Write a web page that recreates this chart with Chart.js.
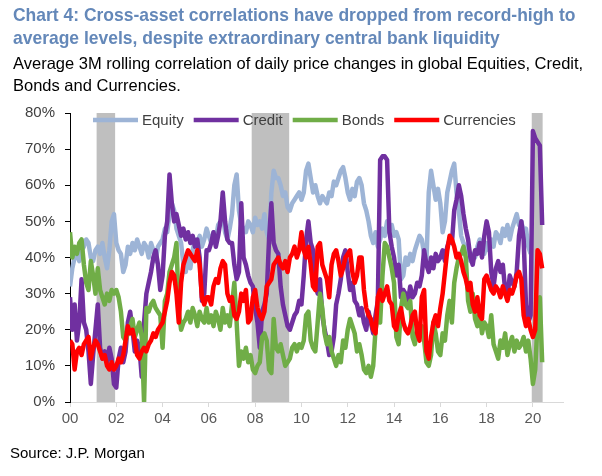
<!DOCTYPE html>
<html>
<head>
<meta charset="utf-8">
<script src="https://cdn.jsdelivr.net/npm/chart.js@4.4.1/dist/chart.umd.min.js"></script>
<style>
  body { margin: 0; background: #fff; }
  #wrap { position: relative; width: 602px; height: 476px; overflow: hidden; }
  #chart { position: absolute; left: 0; top: 0; }
  .txt { position: absolute; white-space: nowrap; font-family: 'Liberation Sans', Arial, sans-serif; transform-origin: 0 0; }
  #title { left: 13px; top: 3px; font-size: 19px; line-height: 23px; font-weight: bold; color: #6488b9; transform: scaleX(0.92); }
  #subtitle { left: 13px; top: 52px; font-size: 16.5px; line-height: 22px; color: #000; }
  #source { left: 10px; top: 444px; font-size: 15px; line-height: 18px; color: #000; }
</style>
</head>
<body>
<div id="wrap">
  <canvas id="chart" width="602" height="476"></canvas>
  <div id="title" class="txt">Chart 4: Cross-asset correlations have dropped from record-high to<br>average levels, despite extraordinary central bank liquidity</div>
  <div id="subtitle" class="txt">Average 3M rolling correlation of daily price changes in global Equities, Credit,<br>Bonds and Currencies.</div>
  <div id="source" class="txt">Source: J.P. Morgan</div>
</div>
<script>
// series are sampled every 0.1 year starting Jan 2000 (values in %)
const START_YEAR = 2000;
const STEP = 0.1;

const equity = [
  32, 37, 40, 41, 39, 42, 43, 45, 44, 40, // 2000
  39, 42, 43, 41, 44, 40, 37, 42, 50, 52, // 2001
  44, 42, 41, 36, 38, 43, 41, 44, 42, 45, // 2002
  43, 41, 44, 43, 40, 44, 42, 39, 43, 44, // 2003
  45, 48, 47, 52, 55, 53, 48, 46, 44, 38, // 2004
  36, 40, 37, 42, 45, 44, 46, 43, 45, 48, // 2005
  46, 44, 47, 45, 49, 50, 52, 47, 45, 48, // 2006
  52, 60, 63, 53, 49, 48, 47, 50, 49, 47, // 2007
  51, 49, 50, 48, 52, 47, 45, 58, 64, 62, // 2008
  62, 60, 57, 58, 54, 53, 55, 56, 57, 58, // 2009
  56, 58, 64, 66, 62, 58, 60, 57, 55, 57, // 2010
  56, 55, 58, 57, 61, 60, 62, 64, 65, 62, // 2011
  58, 56, 59, 57, 61, 62, 60, 55, 53, 50, // 2012
  46, 44, 47, 43, 45, 48, 46, 50, 47, 49, // 2013
  46, 47, 45, 34, 35, 40, 38, 41, 39, 42, // 2014
  44, 46, 45, 41, 39, 58, 64, 60, 56, 59, // 2015
  55, 47, 50, 58, 61, 64, 66, 58, 53, 46, // 2016
  44, 43, 40, 39, 41, 40, 43, 45, 44, 41, // 2017
  44, 42, 45, 43, 47, 46, 44, 48, 46, 49, // 2018
  45, 48, 50, 52, 49, 50, 47, 48, 43, 41  // 2019
];

const credit = [
  29, 20, 27, 17, 22, 34, 22, 20, 14, 5,  // 2000
  13, 20, 27, 15, 12, 14, 11, 15, 12, 5,  // 2001
  4, 12, 15, 11, 14, 22, 25, 20, 14, 17,  // 2002
  15, 7, 22, 30, 33, 36, 40, 42, 38, 31,  // 2003
  35, 46, 50, 63, 55, 50, 52, 49, 46, 48, // 2004
  45, 47, 44, 46, 43, 45, 40, 28, 30, 42, // 2005
  42, 44, 47, 43, 46, 50, 58, 50, 45, 44, // 2006
  44, 38, 34, 36, 55, 40, 38, 35, 33, 32, // 2007
  26, 22, 15, 25, 27, 30, 45, 55, 44, 42, // 2008
  41, 32, 27, 24, 21, 20, 22, 24, 25, 28, // 2009
  27, 35, 45, 50, 44, 42, 33, 30, 34, 24, // 2010
  20, 17, 13, 14, 18, 27, 30, 34, 40, 42, // 2011
  36, 31, 33, 28, 27, 24, 26, 22, 20, 25, // 2012
  22, 19, 24, 28, 67, 68, 68, 67, 47, 43, // 2013
  40, 35, 38, 29, 31, 30, 28, 32, 29, 30, // 2014
  33, 32, 35, 42, 38, 36, 40, 37, 41, 39, // 2015
  40, 42, 39, 43, 45, 44, 53, 56, 60, 57, // 2016
  52, 48, 45, 40, 38, 42, 41, 44, 40, 46, // 2017
  50, 47, 36, 32, 37, 39, 36, 38, 31, 29, // 2018
  35, 33, 32, 36, 46, 50, 45, 27, 22, 24, // 2019
  75, 73, 72, 71, 49                      // 2020
];

const bonds = [
  47, 40, 43, 41, 44, 45, 38, 33, 31, 39, // 2000
  35, 30, 37, 31, 29, 27, 30, 28, 31, 30, // 2001
  31, 29, 25, 18, 17, 19, 21, 23, 18, 20, // 2002
  22, 18, 0, 26, 25, 27, 28, 26, 25, 24,  // 2003
  15, 28, 30, 36, 38, 40, 44, 25, 20, 22, // 2004
  23, 25, 22, 26, 24, 21, 25, 23, 22, 26, // 2005
  22, 24, 21, 25, 23, 20, 26, 22, 24, 21, // 2006
  27, 33, 22, 10, 14, 12, 15, 11, 13, 9,  // 2007
  8, 10, 11, 18, 19, 17, 9, 8, 23, 15,    // 2008
  14, 16, 13, 10, 11, 12, 15, 16, 14, 16, // 2009
  15, 17, 24, 25, 17, 15, 14, 22, 30, 26, // 2010
  19, 16, 18, 14, 12, 10, 13, 11, 17, 15, // 2011
  20, 23, 21, 19, 14, 16, 13, 9, 8, 10,   // 2012
  7, 10, 20, 24, 22, 35, 44, 43, 40, 37,  // 2013
  33, 18, 16, 26, 30, 27, 26, 28, 18, 16, // 2014
  20, 18, 21, 17, 11, 10, 13, 22, 19, 14, // 2015
  13, 19, 17, 24, 28, 22, 33, 37, 40, 41, // 2016
  43, 40, 28, 25, 30, 23, 21, 25, 19, 22, // 2017
  21, 18, 24, 16, 14, 12, 17, 15, 19, 13, // 2018
  16, 18, 14, 17, 15, 16, 18, 14, 17, 12, // 2019
  5, 9, 22, 29, 11                        // 2020
];

const currencies = [
  17, 16, 9, 14, 15, 13, 16, 17, 18, 12,  // 2000
  15, 17, 16, 14, 12, 13, 10, 9, 11, 9,   // 2001
  10, 12, 11, 13, 17, 21, 19, 20, 17, 13, // 2002
  12, 14, 15, 14, 16, 17, 19, 18, 20, 21, // 2003
  22, 25, 28, 33, 36, 35, 30, 22, 33, 38, // 2004
  40, 42, 41, 40, 39, 42, 38, 29, 27, 29, // 2005
  29, 27, 32, 34, 33, 37, 39, 38, 30, 28, // 2006
  29, 24, 23, 25, 30, 28, 31, 22, 23, 29, // 2007
  31, 26, 24, 23, 25, 32, 33, 34, 38, 39, // 2008
  40, 38, 37, 39, 36, 40, 41, 43, 40, 42, // 2009
  47, 42, 40, 43, 38, 32, 31, 43, 44, 38, // 2010
  36, 34, 29, 38, 41, 42, 39, 35, 37, 40, // 2011
  41, 42, 36, 33, 35, 40, 40, 31, 26, 24, // 2012
  23, 20, 19, 29, 31, 28, 30, 32, 28, 27, // 2013
  21, 20, 24, 26, 22, 20, 19, 21, 24, 25, // 2014
  19, 17, 29, 31, 14, 12, 18, 22, 24, 21, // 2015
  26, 30, 36, 42, 46, 45, 43, 40, 41, 39, // 2016
  36, 34, 31, 33, 27, 25, 29, 24, 23, 34, // 2017
  35, 33, 31, 30, 32, 31, 29, 32, 30, 28, // 2018
  31, 30, 32, 35, 36, 34, 24, 21, 23, 20, // 2019
  18, 20, 42, 41, 37                      // 2020
];

const seriesNames = ["Equity", "Credit", "Bonds", "Currencies"];
const seriesColors = ["#9db4d6", "#7030a0", "#70ad47", "#ff0000"];

const tickYears = [2000, 2002, 2004, 2006, 2008, 2010, 2012, 2014, 2016, 2018, 2020];
const tickLabels = ["00", "02", "04", "06", "08", "10", "12", "14", "16", "18", "20"];
const yTicks = [0, 10, 20, 30, 40, 50, 60, 70, 80];

// grey shaded periods (recessions / crises)
const shadedPeriods = [[2001.15, 2001.95], [2007.85, 2009.47], [2019.95, 2020.42]];

function toPoints(arr) {
  return arr.map((v, i) => ({ x: START_YEAR + i * STEP, y: v }));
}

const shadePlugin = {
  id: "shade",
  beforeDatasetsDraw(chart) {
    const { ctx, chartArea, scales } = chart;
    ctx.save();
    ctx.fillStyle = "#bfbfbf";
    shadedPeriods.forEach(p => {
      const x1 = scales.x.getPixelForValue(p[0]);
      const x2 = scales.x.getPixelForValue(p[1]);
      ctx.fillRect(x1, chartArea.top, x2 - x1, chartArea.bottom - chartArea.top);
    });
    ctx.restore();
  }
};

// legend drawn inside the plot, along the top
const legendPlugin = {
  id: "innerLegend",
  afterDatasetsDraw(chart) {
    const ctx = chart.ctx;
    let x = 93;
    const y = 120;
    ctx.save();
    ctx.font = "15px 'Liberation Sans', Arial, sans-serif";
    ctx.textBaseline = "middle";
    chart.data.datasets.forEach(ds => {
      ctx.strokeStyle = ds.borderColor;
      ctx.lineWidth = 4.5;
      ctx.beginPath();
      ctx.moveTo(x, y);
      ctx.lineTo(x + 45, y);
      ctx.stroke();
      x += 49;
      ctx.fillStyle = "#404040";
      ctx.fillText(ds.label, x, y + 1);
      x += ctx.measureText(ds.label).width + 10;
    });
    ctx.restore();
  }
};

const allSeries = [equity, credit, bonds, currencies];

new Chart(document.getElementById("chart"), {
  type: "line",
  data: {
    datasets: allSeries.map((s, i) => ({
      label: seriesNames[i],
      data: toPoints(s),
      borderColor: seriesColors[i],
      backgroundColor: seriesColors[i],
      borderWidth: 4.5,
      pointRadius: 0,
      tension: 0,
      borderJoinStyle: "round",
      order: 4 - i
    }))
  },
  options: {
    responsive: false,
    animation: false,
    layout: { padding: { left: 0, right: 39, top: 113, bottom: 44 } },
    plugins: {
      legend: { display: false },
      tooltip: { enabled: false }
    },
    scales: {
      x: {
        type: "linear",
        min: 2000,
        max: 2021.3,
        afterBuildTicks: axis => { axis.ticks = tickYears.map(v => ({ value: v })); },
        afterFit: axis => { axis.height = 30; },
        ticks: {
          callback: v => tickLabels[tickYears.indexOf(v)],
          color: "#595959",
          font: { size: 15, family: "'Liberation Sans', Arial, sans-serif" },
          padding: 3,
          maxRotation: 0
        },
        grid: { drawOnChartArea: false, drawTicks: true, tickLength: 5, color: "#d9d9d9" },
        border: { display: true, color: "#d9d9d9", width: 1 }
      },
      y: {
        min: 0,
        max: 80,
        afterBuildTicks: axis => { axis.ticks = yTicks.map(v => ({ value: v })); },
        afterFit: axis => { axis.width = 70; },
        ticks: {
          callback: v => v + "%",
          color: "#404040",
          font: { size: 15, family: "'Liberation Sans', Arial, sans-serif" },
          padding: 10
        },
        grid: { drawOnChartArea: false, drawTicks: true, tickLength: 5, color: "#000" },
        border: { display: true, color: "#000", width: 1 }
      }
    }
  },
  plugins: [shadePlugin, legendPlugin]
});
</script>
</body>
</html>
